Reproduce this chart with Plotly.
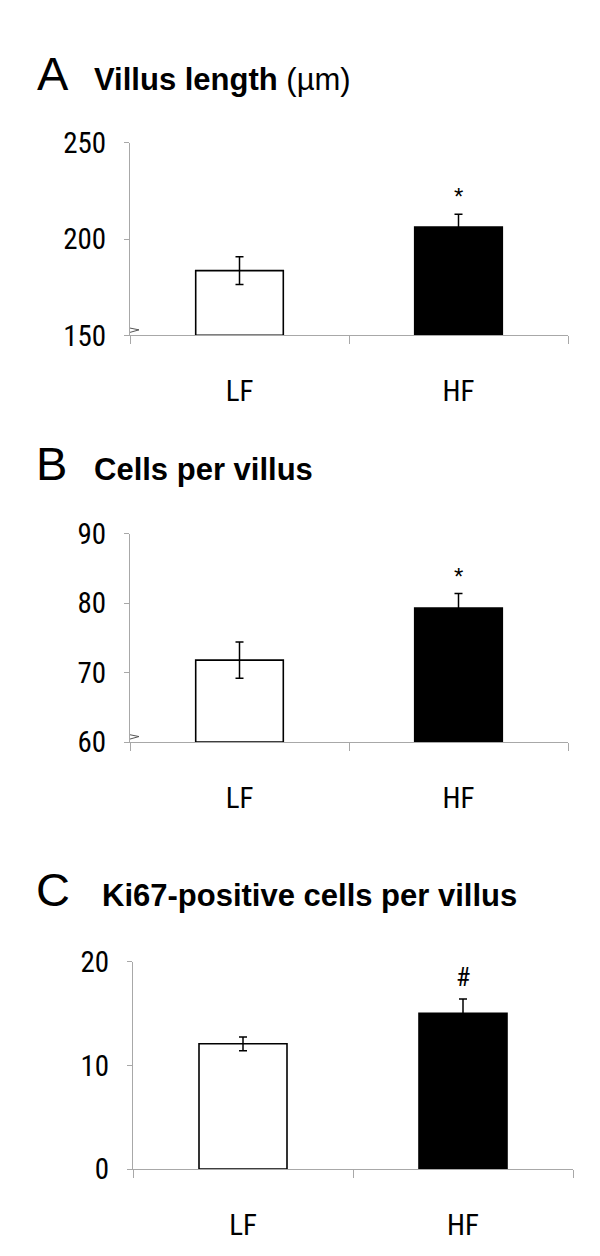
import plotly.graph_objects as go

W, H = 600, 1256

categories = ["LF", "HF"]

panel_letters = ["A", "B", "C"]
panel_titles = ["<b>Villus length</b> (µm)", "<b>Cells per villus</b>", "<b>Ki67-positive cells per villus</b>"]

villus_mean = [183.6, 206.2]
villus_sem = [7.2, 6.7]
cells_mean = [71.8, 79.3]
cells_sem = [2.6, 2.1]
ki67_mean = [12.1, 15.05]
ki67_sem = [0.66, 1.38]

y_ranges = [[150, 250], [60, 90], [0, 20]]
y_dticks = [50, 10, 10]
sig_marks = ["*", "*", "#"]
axis_breaks = [True, True, False]

means = [villus_mean, cells_mean, ki67_mean]
sems = [villus_sem, cells_sem, ki67_sem]

# plot areas in pixels: (left, right, top, bottom)
areas = [(122, 560, 121, 319), (122, 560, 523, 737), (125, 565, 963, 1176)]
title_baselines = [67, 468, 906]
letter_x = [27, 26, 26]
title_x = [84, 84, 92]

NARROW = "Roboto Condensed, Liberation Sans Narrow, sans-serif"
SANS = "Liberation Sans, Arial, sans-serif"
AXIS_GRAY = "#a8a8a8"

fig = go.Figure()
xs = [i + 0.5 for i in range(len(categories))]

annotations = []
shapes = []
for k in range(3):
    sfx = "" if k == 0 else str(k + 1)
    xa, ya = "x" + sfx, "y" + sfx
    fig.add_trace(go.Bar(
        x=xs, y=[m - y_ranges[k][0] for m in means[k]], base=y_ranges[k][0],
        width=0.4,
        marker=dict(color=["white", "black"], line=dict(color="black", width=1.6)),
        error_y=dict(type="data", array=sems[k], color="black", thickness=1.5, width=4),
        xaxis=xa, yaxis=ya, showlegend=False, hoverinfo="skip",
    ))
    l, r, t, b = areas[k]
    fig.layout["xaxis" + sfx] = dict(
        domain=[l / W, r / W], range=[0, len(categories)], anchor=ya,
        showline=True, linecolor=AXIS_GRAY, linewidth=1, showgrid=False, zeroline=False,
        tickmode="array", tickvals=xs, ticktext=categories, ticks="",
        ticklabelstandoff=30,
        tickfont=dict(family=NARROW, size=29, color="black"),
        minor=dict(tickmode="linear", tick0=0, dtick=1, ticks="outside", ticklen=8,
                   tickcolor=AXIS_GRAY, tickwidth=1, showgrid=False),
        fixedrange=True)
    fig.layout["yaxis" + sfx] = dict(
        domain=[1 - b / H, 1 - t / H], range=y_ranges[k], anchor=xa,
        showline=True, linecolor=AXIS_GRAY, linewidth=1, showgrid=False, zeroline=False,
        tickmode="linear", tick0=y_ranges[k][0], dtick=y_dticks[k],
        ticks="outside", ticklen=5, tickcolor=AXIS_GRAY,
        ticklabelstandoff=12,
        tickfont=dict(family=NARROW, size=29, color="black"),
        fixedrange=True)

    # significance mark above the HF error bar
    is_hash = sig_marks[k] == "#"
    annotations.append(dict(
        x=xs[1], y=means[k][1] + sems[k][1], xref=xa, yref=ya,
        text=sig_marks[k], showarrow=False, yanchor="bottom",
        yshift=5 if is_hash else 2,
        font=dict(family=NARROW if is_hash else SANS, size=26 if is_hash else 24, color="black"),
    ))

    # panel letter & title
    base = title_baselines[k]
    annotations.append(dict(
        x=letter_x[k] / W, y=1 - (base - 17) / H, xref="paper", yref="paper",
        text=panel_letters[k], showarrow=False, xanchor="left", yanchor="middle",
        font=dict(family=SANS, size=47, color="black"),
    ))
    annotations.append(dict(
        x=title_x[k] / W, y=1 - (base - 11) / H, xref="paper", yref="paper",
        text=panel_titles[k], showarrow=False, xanchor="left", yanchor="middle",
        font=dict(family=SANS, size=31, color="black"),
    ))

    if axis_breaks[k]:
        shapes.append(dict(
            type="path", xref=xa, yref=ya,
            xsizemode="pixel", ysizemode="pixel",
            xanchor=0, yanchor=y_ranges[k][0],
            path="M -1,7.5 L 9,5.5 L -9,0.5 L 0,-1.5",
            line=dict(color="#555555", width=1),
        ))

fig.update_layout(
    width=W, height=H,
    margin=dict(l=0, r=0, t=0, b=0),
    paper_bgcolor="white", plot_bgcolor="white",
    annotations=annotations, shapes=shapes,
    bargap=0.6,
)

fig.write_html("out.html")
